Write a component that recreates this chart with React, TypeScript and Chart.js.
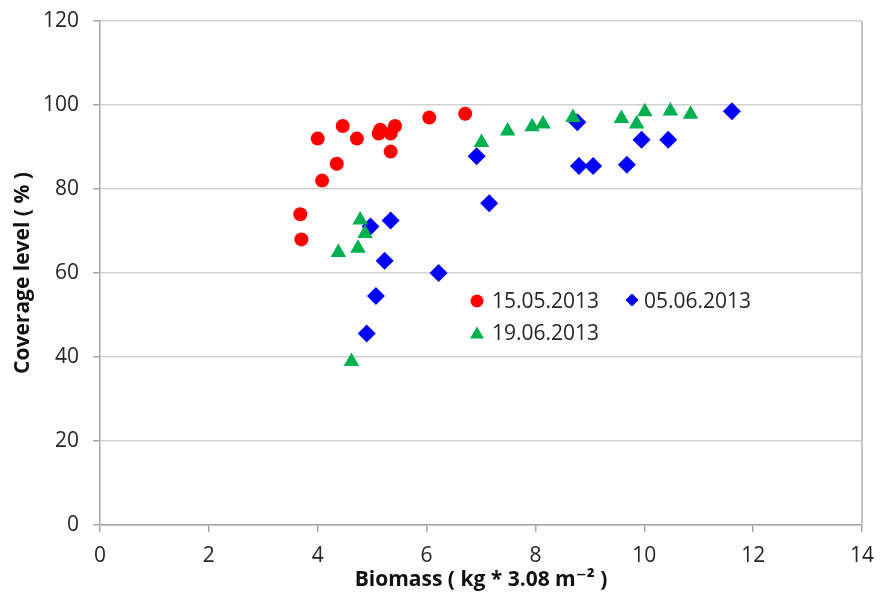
import React, { useEffect, useRef } from "react";
import { Chart, registerables } from "chart.js";

Chart.register(...registerables);

// Series names
const seriesNames = ["15.05.2013", "05.06.2013", "19.06.2013"];

// 15.05.2013 (red circles)
const redX = [3.68, 3.70, 4.00, 4.08, 4.35, 4.46, 4.72, 5.12, 5.15, 5.34, 5.42, 5.34, 6.05, 6.71];
const redY = [74.0, 68.0, 92.0, 82.0, 86.0, 95.0, 92.0, 93.2, 94.1, 93.2, 95.0, 88.9, 97.0, 97.9];

// 05.06.2013 (blue diamonds)
const blueX = [4.97, 5.34, 5.23, 6.22, 5.07, 4.90, 6.92, 7.15, 8.77, 8.80, 9.06, 9.68, 9.95, 10.44, 11.61];
const blueY = [71.1, 72.5, 62.9, 60.0, 54.5, 45.6, 87.8, 76.6, 95.9, 85.5, 85.5, 85.8, 91.7, 91.7, 98.5];

// 19.06.2013 (green triangles)
const greenX = [4.78, 4.87, 4.38, 4.74, 4.62, 7.01, 7.49, 7.94, 8.14, 8.69, 9.58, 9.86, 10.01, 10.48, 10.85];
const greenY = [72.6, 69.4, 64.9, 65.9, 38.9, 91.1, 93.8, 94.8, 95.5, 97.0, 96.8, 95.5, 98.4, 98.6, 97.8];

// Axes
const xMin = 0, xMax = 14, xStep = 2;
const yMin = 0, yMax = 120, yStep = 20;
const xTitle = "Biomass ( kg * 3.08 m\u207B\u00B2 )";
const yTitle = "Coverage level ( % )";

const RED = "#FF0000";
const BLUE = "#0000FF";
const GREEN = "#00B050";
const FONT = "'Open Sans', 'DejaVu Sans', sans-serif";
const TEXT = "#262626";

const toPts = (xs: number[], ys: number[]) => xs.map((x, i) => ({ x, y: ys[i] }));

const legendPlugin = {
  id: "insideLegend",
  afterDraw(chart: any) {
    const ctx = chart.ctx as CanvasRenderingContext2D;
    ctx.save();
    ctx.font = `21px ${FONT}`;
    ctx.textBaseline = "middle";
    ctx.textAlign = "left";
    // red circle
    ctx.fillStyle = RED;
    ctx.beginPath();
    ctx.arc(477, 301, 6.5, 0, Math.PI * 2);
    ctx.fill();
    ctx.fillStyle = TEXT;
    ctx.fillText(seriesNames[0], 492, 302);
    // blue diamond
    ctx.fillStyle = BLUE;
    ctx.beginPath();
    ctx.moveTo(632, 293.5);
    ctx.lineTo(638.5, 300);
    ctx.lineTo(632, 306.5);
    ctx.lineTo(625.5, 300);
    ctx.closePath();
    ctx.fill();
    ctx.fillStyle = TEXT;
    ctx.fillText(seriesNames[1], 644, 302);
    // green triangle
    ctx.fillStyle = GREEN;
    ctx.beginPath();
    ctx.moveTo(477, 326.5);
    ctx.lineTo(484, 338.5);
    ctx.lineTo(470, 338.5);
    ctx.closePath();
    ctx.fill();
    ctx.fillStyle = TEXT;
    ctx.fillText(seriesNames[2], 492, 334);
    ctx.restore();
  },
};

const borderPlugin = {
  id: "rightBorder",
  afterDraw(chart: any) {
    const { ctx, chartArea } = chart;
    ctx.save();
    ctx.strokeStyle = "#c4c4c4";
    ctx.lineWidth = 2;
    ctx.beginPath();
    ctx.moveTo(chartArea.right, chartArea.top);
    ctx.lineTo(chartArea.right, chartArea.bottom);
    ctx.stroke();
    ctx.restore();
  },
};

export default function App() {
  const ref = useRef<HTMLCanvasElement | null>(null);

  useEffect(() => {
    if (!ref.current) return;
    const chart = new Chart(ref.current, {
      type: "scatter",
      data: {
        datasets: [
          {
            label: seriesNames[0],
            data: toPts(redX, redY),
            pointStyle: "circle",
            pointRadius: 7,
            pointHoverRadius: 7,
            backgroundColor: RED,
            borderColor: RED,
            borderWidth: 0,
            order: 0,
          },
          {
            label: seriesNames[1],
            data: toPts(blueX, blueY),
            pointStyle: "rectRot",
            pointRadius: 9,
            pointHoverRadius: 9,
            backgroundColor: BLUE,
            borderColor: BLUE,
            borderWidth: 0,
            order: 2,
          },
          {
            label: seriesNames[2],
            data: toPts(greenX, greenY),
            pointStyle: "triangle",
            pointRadius: 9,
            pointHoverRadius: 9,
            backgroundColor: GREEN,
            borderColor: GREEN,
            borderWidth: 0,
            order: 1,
          },
        ],
      },
      options: {
        animation: false,
        responsive: false,
        devicePixelRatio: 1,
        layout: { padding: { left: 0, right: 18, top: 21, bottom: 0 } },
        plugins: {
          legend: { display: false },
          tooltip: { enabled: false },
        },
        scales: {
          x: {
            type: "linear",
            min: xMin,
            max: xMax,
            ticks: {
              stepSize: xStep,
              font: { family: FONT, size: 21 },
              color: TEXT,
              padding: 11,
              maxRotation: 0,
            },
            grid: {
              drawOnChartArea: false,
              drawTicks: true,
              tickLength: 7,
              tickColor: "#a6a6a6",
              lineWidth: 1.5,
            },
            border: { display: true, color: "#a6a6a6", width: 1.5 },
            title: {
              display: true,
              text: xTitle,
              font: { family: FONT, size: 21, weight: "bold" },
              color: "#111",
              padding: { top: 0, bottom: 7 },
            },
            afterFit(scale: any) {
              scale.height = 75;
              scale.paddingLeft = 0;
            },
          },
          y: {
            type: "linear",
            min: yMin,
            max: yMax,
            ticks: {
              stepSize: yStep,
              font: { family: FONT, size: 21 },
              color: TEXT,
              padding: 14,
            },
            grid: {
              color: "#cfcfcf",
              lineWidth: 1.5,
              drawTicks: true,
              tickLength: 7,
              tickColor: "#a6a6a6",
            },
            border: { display: true, color: "#a6a6a6", width: 1.5 },
            title: {
              display: true,
              text: yTitle,
              font: { family: FONT, size: 21, weight: "bold" },
              color: "#111",
              padding: { top: 10, bottom: 0 },
            },
            afterFit(scale: any) {
              scale.width = 100;
              scale.paddingTop = 0;
              scale.paddingBottom = 0;
            },
          },
        },
      },
      plugins: [borderPlugin, legendPlugin],
    } as any);
    return () => chart.destroy();
  }, []);

  return (
    <div style={{ position: "absolute", left: 0, top: 0, width: 885, height: 600, background: "#fff" }}>
      <canvas ref={ref} width={885} height={600} style={{ display: "block" }} />
    </div>
  );
}
